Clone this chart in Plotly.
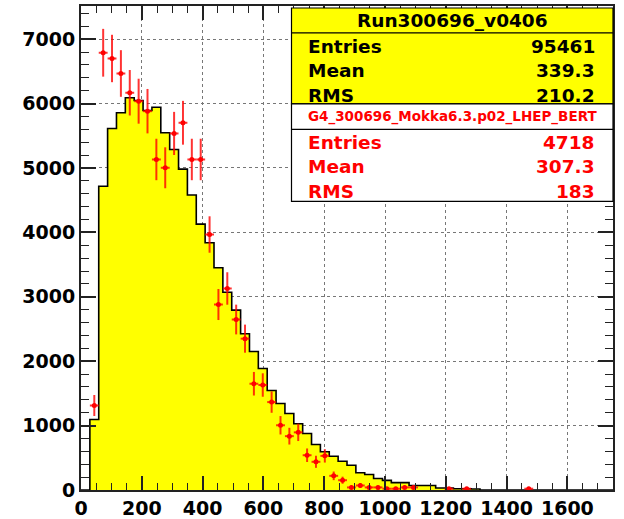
import plotly.graph_objects as go
import numpy as np

# histogram binning: 60 bins from 0 to 1750
x_min, x_max, n_bins = 0, 1750, 60

# data histogram (yellow), content per bin
data_counts = [0, 1095, 4717, 5613, 5857, 6090, 6048, 5893, 5944, 5547,
               5287, 4982, 4580, 4128, 3838, 3450, 3070, 2793, 2425, 2150,
               1887, 1545, 1343, 1188, 1028, 877, 707, 594, 525, 447,
               385, 267, 241, 179, 150, 115, 115, 70, 70, 70,
               30, 30, 20, 20, 15, 0, 0, 0, 0, 0,
               0, 0, 0, 0, 0, 0, 0, 0, 0, 0]

# simulation (red points), scaled content and error per bin
sim_counts = [0, 1312, 6789, 6700, 6467, 6168, 6037, 5882, 5132, 5003,
              5536, 5702, 5132, 5132, 3967, 2880, 3129, 2647, 2350, 1650,
              1630, 1365, 1005, 836, 895, 540, 438, 530, 220, 152,
              40, 70, 40, 40, 20, 20, 40, 40, 0, 0,
              0, 20, 0, 20, 0, 0, 0, 0, 0, 0,
              20, 0, 0, 0, 0, 0, 0, 0, 0, 0]
sim_errors = [0, 163, 371, 368, 362, 353, 349, 345, 322, 318,
              335, 340, 322, 322, 283, 241, 252, 231, 218, 183,
              182, 166, 143, 130, 135, 105, 94, 104, 67, 55,
              28, 38, 28, 28, 20, 20, 28, 28, 0, 0,
              0, 20, 0, 20, 0, 0, 0, 0, 0, 0,
              20, 0, 0, 0, 0, 0, 0, 0, 0, 0]

data_title = "Run300696_v0406"
data_stats = [("Entries", "95461"), ("Mean", "339.3"), ("RMS", "210.2")]
sim_title = "G4_300696_Mokka6.3.p02_LHEP_BERT"
sim_stats = [("Entries", "4718"), ("Mean", "307.3"), ("RMS", "183")]

edges = np.linspace(x_min, x_max, n_bins + 1)
centers = 0.5 * (edges[:-1] + edges[1:])
half_w = (edges[1] - edges[0]) / 2

fig = go.Figure()

# yellow step histogram
fig.add_trace(go.Scatter(
    x=list(edges[:-1]) + [edges[-1]],
    y=data_counts + [data_counts[-1]],
    mode="lines", line_shape="hv",
    line=dict(color="black", width=1.6),
    fill="tozeroy", fillcolor="#ffff00",
    hoverinfo="skip", showlegend=False))

# red points with error bars (skip empty bins)
mask = [c > 0 for c in sim_counts]
fig.add_trace(go.Scatter(
    x=[c for c, m in zip(centers, mask) if m],
    y=[v for v, m in zip(sim_counts, mask) if m],
    mode="markers",
    marker=dict(color="#ff0000", size=5, symbol="circle"),
    error_y=dict(type="data", array=[e for e, m in zip(sim_errors, mask) if m],
                 color="rgba(255,0,0,0.8)", thickness=2, width=0),
    error_x=dict(type="constant", value=half_w,
                 color="rgba(255,0,0,0.8)", thickness=2, width=0),
    showlegend=False))

# plot area in pixels (624x519 canvas)
L, R, T, B = 81, 613, 6, 490.5


def px(xp):
    return (xp - L) / (R - L)


def py(yp):
    return (B - yp) / (B - T)


tick_font = dict(family="DejaVu Sans", size=19, color="black", weight="bold")

fig.update_xaxes(
    range=[x_min, x_max], dtick=200, tick0=0,
    showgrid=True, gridcolor="#777", griddash="dot", gridwidth=1,
    ticks="inside", ticklen=14, tickwidth=1.5, tickcolor="#222",
    minor=dict(dtick=50, ticks="inside", ticklen=7, tickwidth=1.2, tickcolor="#222", showgrid=False),
    showline=True, linecolor="#222", linewidth=2, mirror="ticks",
    tickfont=tick_font, zeroline=False, automargin=False)
fig.update_yaxes(
    range=[0, 7515], dtick=1000, tick0=0,
    showgrid=True, gridcolor="#777", griddash="dot", gridwidth=1,
    ticks="inside", ticklen=15, tickwidth=1.5, tickcolor="#222",
    minor=dict(dtick=200, ticks="inside", ticklen=8, tickwidth=1.2, tickcolor="#222", showgrid=False),
    showline=True, linecolor="#222", linewidth=2, mirror="ticks",
    tickfont=tick_font, zeroline=False, automargin=False)

# stats boxes
bx0, bx1 = px(291.5), px(613)
shapes = [
    dict(type="rect", xref="paper", yref="paper", x0=bx0, x1=bx1, y0=py(104), y1=py(8),
         fillcolor="#ffff00", line=dict(color="black", width=1.2)),
    dict(type="line", xref="paper", yref="paper", x0=bx0, x1=bx1, y0=py(33), y1=py(33),
         line=dict(color="black", width=1.2)),
    dict(type="rect", xref="paper", yref="paper", x0=bx0, x1=bx1, y0=py(201.5), y1=py(104),
         fillcolor="white", line=dict(color="black", width=1.2)),
    dict(type="line", xref="paper", yref="paper", x0=bx0, x1=bx1, y0=py(129.5), y1=py(129.5),
         line=dict(color="black", width=1.2)),
]

ann = []
stat_font = dict(family="DejaVu Sans", size=18.5, weight="bold")
ann.append(dict(text=data_title, x=(bx0 + bx1) / 2, y=py(20.5), xanchor="center",
                font=dict(stat_font, color="black")))
for i, (k, v) in enumerate(data_stats):
    yy = py(46.5 + i * 24.3)
    ann.append(dict(text=k, x=px(306), y=yy, xanchor="left", font=dict(stat_font, color="black")))
    ann.append(dict(text=v, x=px(597), y=yy, xanchor="right", font=dict(stat_font, color="black")))
ann.append(dict(text=sim_title, x=(bx0 + bx1) / 2, y=py(116.7), xanchor="center",
                font=dict(family="DejaVu Sans", size=13.5, weight="bold", color="#ff0000")))
for i, (k, v) in enumerate(sim_stats):
    yy = py(142.5 + i * 24.6)
    ann.append(dict(text=k, x=px(306), y=yy, xanchor="left", font=dict(stat_font, color="#ff0000")))
    ann.append(dict(text=v, x=px(597), y=yy, xanchor="right", font=dict(stat_font, color="#ff0000")))
for a in ann:
    a.update(xref="paper", yref="paper", yanchor="middle", showarrow=False)

fig.update_layout(
    width=624, height=519,
    margin=dict(l=L, r=624 - R, t=T, b=519 - B),
    paper_bgcolor="white", plot_bgcolor="white",
    shapes=shapes, annotations=ann, showlegend=False)

# remove the default page margin so the 624x519 figure fills the window
fig.write_html("out.html", config={"displayModeBar": False},
               post_script="document.body.style.margin='0';document.body.style.overflow='hidden';")
